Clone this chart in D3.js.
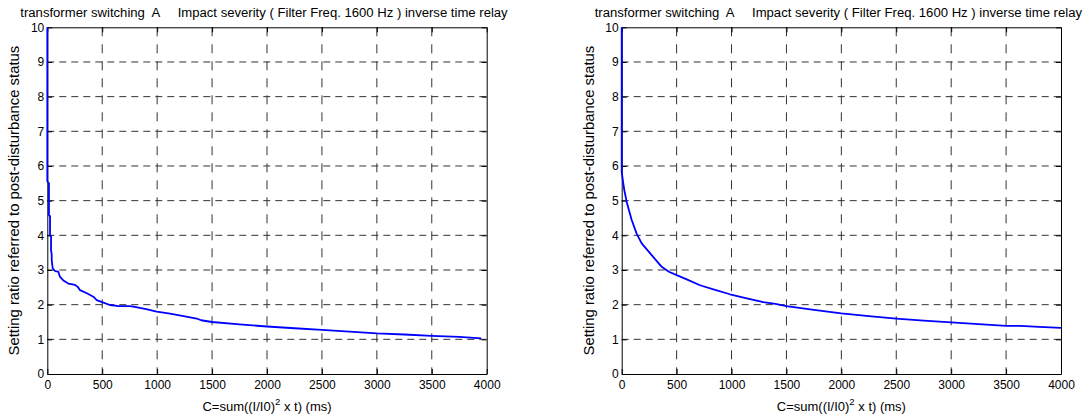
<!DOCTYPE html>
<html><head><meta charset="utf-8">
<script src="https://cdn.jsdelivr.net/npm/d3@7"></script>
<style>body{margin:0;background:#fff}svg{display:block}text{font-family:"Liberation Sans",Arial,sans-serif;}</style>
</head><body><svg id="c" width="1088" height="419"></svg>
<script>
const titleText = "transformer switching  A     Impact severity ( Filter Freq. 1600 Hz ) inverse time relay";
const yLabelText = "Setting ratio referred to post-disturbance status";
const xTicks = [0,500,1000,1500,2000,2500,3000,3500,4000];
const yTicks = [0,1,2,3,4,5,6,7,8,9,10];

const leftC = [0,0,15,15,25,25,34,34,40,40,49,70,100,116,146,191,252,275,298,360,419,450,510,571,650,753,783,900,996,1117,1240,1360,1400,1500,1750,2000,2250,2500,2750,3000,3250,3500,3750,3950];
const leftR = [10,5.56,5.5,4.58,4.55,4.0,3.95,3.57,3.45,3.29,3.05,2.97,2.95,2.8,2.7,2.61,2.57,2.52,2.42,2.33,2.23,2.13,2.06,1.99,1.96,1.96,1.94,1.87,1.80,1.74,1.67,1.6,1.55,1.5,1.43,1.37,1.32,1.27,1.22,1.17,1.14,1.10,1.07,1.03];

const rightC = [0,0,12,24,45,68,91,136,182,273,364,430,501,592,713,835,986,1100,1289,1400,1500,1750,2000,2250,2500,2750,3000,3250,3500,3630,3800,4000];
const rightR = [10,5.83,5.55,5.30,4.97,4.70,4.44,4.05,3.77,3.43,3.09,2.95,2.85,2.73,2.56,2.44,2.30,2.21,2.07,2.02,1.96,1.85,1.75,1.67,1.60,1.54,1.49,1.44,1.39,1.39,1.36,1.33];

const svg = d3.select("#c");

function fitText(sel, target){
  const w = sel.node().getComputedTextLength();
  const fs = +sel.attr("font-size");
  sel.attr("font-size", fs*target/w);
}

function panel(x0, x1, cs, rs, yLabX){
  const top = 27.3, bottom = 374;
  const x = d3.scaleLinear().domain([0,4000]).range([x0,x1]);
  const y = d3.scaleLinear().domain([0,10]).range([bottom,top]);
  const g = svg.append("g");
  // grid
  g.selectAll(".gh").data(yTicks.slice(1,-1)).join("line")
    .attr("x1",x0).attr("x2",x1).attr("y1",d=>y(d)).attr("y2",d=>y(d))
    .attr("stroke","#333").attr("stroke-width",1).attr("stroke-dasharray","7,5");
  g.selectAll(".gv").data(xTicks.slice(1,-1)).join("line")
    .attr("y1",top).attr("y2",bottom).attr("x1",d=>x(d)).attr("x2",d=>x(d))
    .attr("stroke","#333").attr("stroke-width",1).attr("stroke-dasharray","9,8");
  // axes
  const fmt = d3.format("d");
  const ax = g.append("g").attr("transform",`translate(0,${bottom})`)
    .call(d3.axisBottom(x).tickValues(xTicks).tickFormat(fmt).tickSizeInner(-5).tickSizeOuter(0));
  const axt = g.append("g").attr("transform",`translate(0,${top})`)
    .call(d3.axisTop(x).tickValues(xTicks).tickSizeInner(-5).tickSizeOuter(0).tickFormat(""));
  const ay = g.append("g").attr("transform",`translate(${x0},0)`)
    .call(d3.axisLeft(y).tickValues(yTicks).tickFormat(fmt).tickSizeInner(-5).tickSizeOuter(0));
  const ayr = g.append("g").attr("transform",`translate(${x1},0)`)
    .call(d3.axisRight(y).tickValues(yTicks).tickSizeInner(-5).tickSizeOuter(0).tickFormat(""));
  [ax,axt,ay,ayr].forEach(a=>{
    a.selectAll("path").attr("stroke","#000");
    a.selectAll("line").attr("stroke","#000");
    a.selectAll("text").attr("font-size",12).attr("fill","#000").attr("font-family","Liberation Sans, Arial, sans-serif");
  });
  ay.selectAll("text").attr("x",-3);
  ax.selectAll("text").attr("y",6);
  // line
  const pts = cs.map((c,i)=>[c,rs[i]]);
  g.append("path").datum(pts)
    .attr("d", d3.line().x(d=>x(d[0])).y(d=>y(d[1])))
    .attr("fill","none").attr("stroke","#0000ff").attr("stroke-width",1.8).attr("stroke-linejoin","round");
  // title
  const cx = (x0+x1)/2;
  const t = g.append("text").attr("x",cx-3).attr("y",17).attr("text-anchor","middle")
    .attr("font-size",12).style("white-space","pre").text(titleText);
  fitText(t, 488);
  // xlabel
  const xl = g.append("text").attr("x",cx).attr("y",411).attr("text-anchor","middle").attr("font-size",13);
  xl.append("tspan").text("C=sum((I/I0)");
  xl.append("tspan").attr("font-size",9.5).attr("dy",-6).text("2");
  xl.append("tspan").attr("dy",6).text(" x t) (ms)");
  // ylabel
  const yl = g.append("text").attr("transform",`translate(${yLabX},${(top+bottom)/2}) rotate(-90)`)
    .attr("text-anchor","middle").attr("font-size",12).text(yLabelText);
  fitText(yl, 310);
}

panel(47.3, 486.7, leftC, leftR, 19);
panel(621.7, 1061, rightC, rightR, 594);
</script></body></html>
